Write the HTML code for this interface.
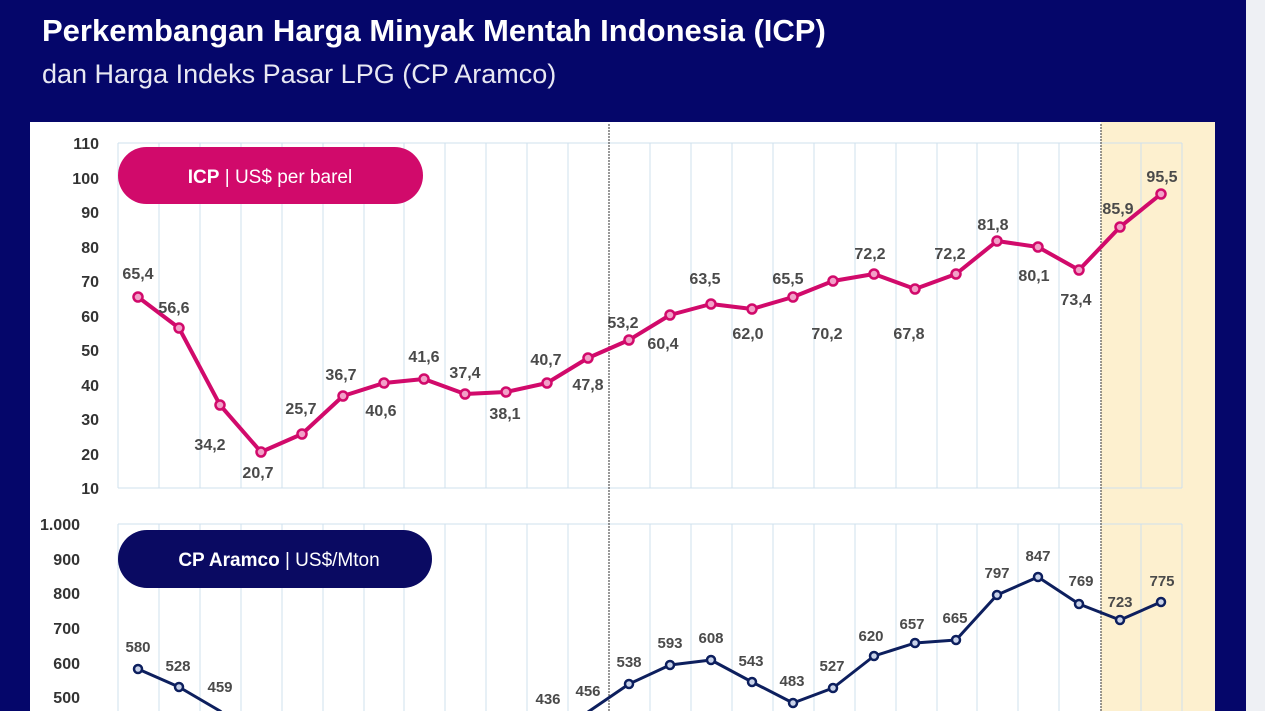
<!DOCTYPE html>
<html><head><meta charset="utf-8"><style>
html,body{margin:0;padding:0;width:1265px;height:711px;overflow:hidden;background:#05066a;font-family:"Liberation Sans",sans-serif}
</style></head><body>
<svg width="1265" height="711" viewBox="0 0 1265 711" xmlns="http://www.w3.org/2000/svg" style="position:absolute;left:0;top:0">
<rect x="0" y="0" width="1265" height="711" fill="#05066a"/>
<rect x="1246" y="0" width="19" height="711" fill="#eef0f4"/>
<text x="42" y="41" font-size="31" font-weight="bold" fill="#fff" font-family="Liberation Sans,sans-serif">Perkembangan Harga Minyak Mentah Indonesia (ICP)</text>
<text x="42" y="83" font-size="27" fill="#e8e8f2" font-family="Liberation Sans,sans-serif">dan Harga Indeks Pasar LPG (CP Aramco)</text>
<rect x="30" y="122" width="1185" height="600" fill="#fff"/>
<rect x="1101" y="122" width="114" height="600" fill="#fdf0cf"/>
<g stroke="#cfe0ee" stroke-width="1">
<line x1="118" y1="143" x2="118" y2="488"/><line x1="159" y1="143" x2="159" y2="488"/><line x1="200" y1="143" x2="200" y2="488"/><line x1="241" y1="143" x2="241" y2="488"/><line x1="282" y1="143" x2="282" y2="488"/><line x1="323" y1="143" x2="323" y2="488"/><line x1="364" y1="143" x2="364" y2="488"/><line x1="404" y1="143" x2="404" y2="488"/><line x1="445" y1="143" x2="445" y2="488"/><line x1="486" y1="143" x2="486" y2="488"/><line x1="527" y1="143" x2="527" y2="488"/><line x1="568" y1="143" x2="568" y2="488"/><line x1="650" y1="143" x2="650" y2="488"/><line x1="691" y1="143" x2="691" y2="488"/><line x1="732" y1="143" x2="732" y2="488"/><line x1="773" y1="143" x2="773" y2="488"/><line x1="814" y1="143" x2="814" y2="488"/><line x1="855" y1="143" x2="855" y2="488"/><line x1="896" y1="143" x2="896" y2="488"/><line x1="937" y1="143" x2="937" y2="488"/><line x1="977" y1="143" x2="977" y2="488"/><line x1="1018" y1="143" x2="1018" y2="488"/><line x1="1059" y1="143" x2="1059" y2="488"/><line x1="1141" y1="143" x2="1141" y2="488"/><line x1="1182" y1="143" x2="1182" y2="488"/>
<line x1="118" y1="143" x2="1182" y2="143"/>
<line x1="118" y1="488" x2="1182" y2="488"/>
<line x1="118" y1="524" x2="118" y2="711"/><line x1="159" y1="524" x2="159" y2="711"/><line x1="200" y1="524" x2="200" y2="711"/><line x1="241" y1="524" x2="241" y2="711"/><line x1="282" y1="524" x2="282" y2="711"/><line x1="323" y1="524" x2="323" y2="711"/><line x1="364" y1="524" x2="364" y2="711"/><line x1="404" y1="524" x2="404" y2="711"/><line x1="445" y1="524" x2="445" y2="711"/><line x1="486" y1="524" x2="486" y2="711"/><line x1="527" y1="524" x2="527" y2="711"/><line x1="568" y1="524" x2="568" y2="711"/><line x1="650" y1="524" x2="650" y2="711"/><line x1="691" y1="524" x2="691" y2="711"/><line x1="732" y1="524" x2="732" y2="711"/><line x1="773" y1="524" x2="773" y2="711"/><line x1="814" y1="524" x2="814" y2="711"/><line x1="855" y1="524" x2="855" y2="711"/><line x1="896" y1="524" x2="896" y2="711"/><line x1="937" y1="524" x2="937" y2="711"/><line x1="977" y1="524" x2="977" y2="711"/><line x1="1018" y1="524" x2="1018" y2="711"/><line x1="1059" y1="524" x2="1059" y2="711"/><line x1="1141" y1="524" x2="1141" y2="711"/><line x1="1182" y1="524" x2="1182" y2="711"/>
<line x1="118" y1="524" x2="1182" y2="524"/>
</g>
<line x1="609" y1="124" x2="609" y2="711" stroke="#555" stroke-width="1.2" stroke-dasharray="2,1"/>
<line x1="1101" y1="124" x2="1101" y2="711" stroke="#555" stroke-width="1.2" stroke-dasharray="2,1"/>
<g font-size="16" font-weight="bold" fill="#333" text-anchor="end" font-family="Liberation Sans,sans-serif">
<text x="99" y="149">110</text><text x="99" y="184">100</text><text x="99" y="218">90</text><text x="99" y="253">80</text><text x="99" y="287">70</text><text x="99" y="322">60</text><text x="99" y="356">50</text><text x="99" y="391">40</text><text x="99" y="425">30</text><text x="99" y="460">20</text><text x="99" y="494">10</text>
<text x="80" y="530">1.000</text><text x="80" y="565">900</text><text x="80" y="599">800</text><text x="80" y="634">700</text><text x="80" y="669">600</text><text x="80" y="703">500</text>
</g>
<rect x="118" y="147" width="305" height="57" rx="28.5" fill="#d10a6b"/>
<text x="270" y="183" font-size="19" fill="#fff" text-anchor="middle" font-family="Liberation Sans,sans-serif"><tspan font-weight="bold">ICP</tspan> | US$ per barel</text>
<rect x="118" y="530" width="314" height="58" rx="29" fill="#0a0a62"/>
<text x="279" y="566" font-size="19" fill="#fff" text-anchor="middle" font-family="Liberation Sans,sans-serif"><tspan font-weight="bold">CP Aramco</tspan> | US$/Mton</text>
<polyline fill="none" stroke="#d10a6b" stroke-width="4" stroke-linejoin="round" points="138,297 179,328 220,405 261,452 302,434 343,396 384,383 424,379 465,394 506,392 547,383 588,358 629,340 670,315 711,304 752,309 793,297 833,281 874,274 915,289 956,274 997,241 1038,247 1079,270 1120,227 1161,194"/>
<g fill="#f2a0c8" stroke="#d10a6b" stroke-width="2.5">
<circle cx="138" cy="297" r="4.5"/><circle cx="179" cy="328" r="4.5"/><circle cx="220" cy="405" r="4.5"/><circle cx="261" cy="452" r="4.5"/><circle cx="302" cy="434" r="4.5"/><circle cx="343" cy="396" r="4.5"/><circle cx="384" cy="383" r="4.5"/><circle cx="424" cy="379" r="4.5"/><circle cx="465" cy="394" r="4.5"/><circle cx="506" cy="392" r="4.5"/><circle cx="547" cy="383" r="4.5"/><circle cx="588" cy="358" r="4.5"/><circle cx="629" cy="340" r="4.5"/><circle cx="670" cy="315" r="4.5"/><circle cx="711" cy="304" r="4.5"/><circle cx="752" cy="309" r="4.5"/><circle cx="793" cy="297" r="4.5"/><circle cx="833" cy="281" r="4.5"/><circle cx="874" cy="274" r="4.5"/><circle cx="915" cy="289" r="4.5"/><circle cx="956" cy="274" r="4.5"/><circle cx="997" cy="241" r="4.5"/><circle cx="1038" cy="247" r="4.5"/><circle cx="1079" cy="270" r="4.5"/><circle cx="1120" cy="227" r="4.5"/><circle cx="1161" cy="194" r="4.5"/>
</g>
<g font-size="16" font-weight="bold" fill="#4a4a4a" text-anchor="middle" font-family="Liberation Sans,sans-serif">
<text x="138" y="279">65,4</text><text x="174" y="313">56,6</text><text x="210" y="450">34,2</text><text x="258" y="478">20,7</text><text x="301" y="414">25,7</text><text x="341" y="380">36,7</text><text x="381" y="416">40,6</text><text x="424" y="362">41,6</text><text x="465" y="378">37,4</text><text x="505" y="419">38,1</text><text x="546" y="365">40,7</text><text x="588" y="390">47,8</text><text x="623" y="328">53,2</text><text x="663" y="349">60,4</text><text x="705" y="284">63,5</text><text x="748" y="339">62,0</text><text x="788" y="284">65,5</text><text x="827" y="339">70,2</text><text x="870" y="259">72,2</text><text x="909" y="339">67,8</text><text x="950" y="259">72,2</text><text x="993" y="230">81,8</text><text x="1034" y="281">80,1</text><text x="1076" y="305">73,4</text><text x="1118" y="214">85,9</text><text x="1162" y="182">95,5</text>
</g>
<polyline fill="none" stroke="#0d1f5e" stroke-width="3" stroke-linejoin="round" points="138,669 179,687 220,711 230,720 578,720 588,712 629,684 670,665 711,660 752,682 793,703 833,688 874,656 915,643 956,640 997,595 1038,577 1079,604 1120,620 1161,602"/>
<g fill="#c9d3ea" stroke="#0d1f5e" stroke-width="2.5">
<circle cx="138" cy="669" r="4"/><circle cx="179" cy="687" r="4"/><circle cx="629" cy="684" r="4"/><circle cx="670" cy="665" r="4"/><circle cx="711" cy="660" r="4"/><circle cx="752" cy="682" r="4"/><circle cx="793" cy="703" r="4"/><circle cx="833" cy="688" r="4"/><circle cx="874" cy="656" r="4"/><circle cx="915" cy="643" r="4"/><circle cx="956" cy="640" r="4"/><circle cx="997" cy="595" r="4"/><circle cx="1038" cy="577" r="4"/><circle cx="1079" cy="604" r="4"/><circle cx="1120" cy="620" r="4"/><circle cx="1161" cy="602" r="4"/>
</g>
<g font-size="15" font-weight="bold" fill="#4a4a4a" text-anchor="middle" font-family="Liberation Sans,sans-serif">
<text x="138" y="652">580</text><text x="178" y="671">528</text><text x="220" y="692">459</text><text x="548" y="704">436</text><text x="588" y="696">456</text><text x="629" y="667">538</text><text x="670" y="648">593</text><text x="711" y="643">608</text><text x="751" y="666">543</text><text x="792" y="686">483</text><text x="832" y="671">527</text><text x="871" y="641">620</text><text x="912" y="629">657</text><text x="955" y="623">665</text><text x="997" y="578">797</text><text x="1038" y="561">847</text><text x="1081" y="586">769</text><text x="1120" y="607">723</text><text x="1162" y="586">775</text>
</g>
</svg>
</body></html>
